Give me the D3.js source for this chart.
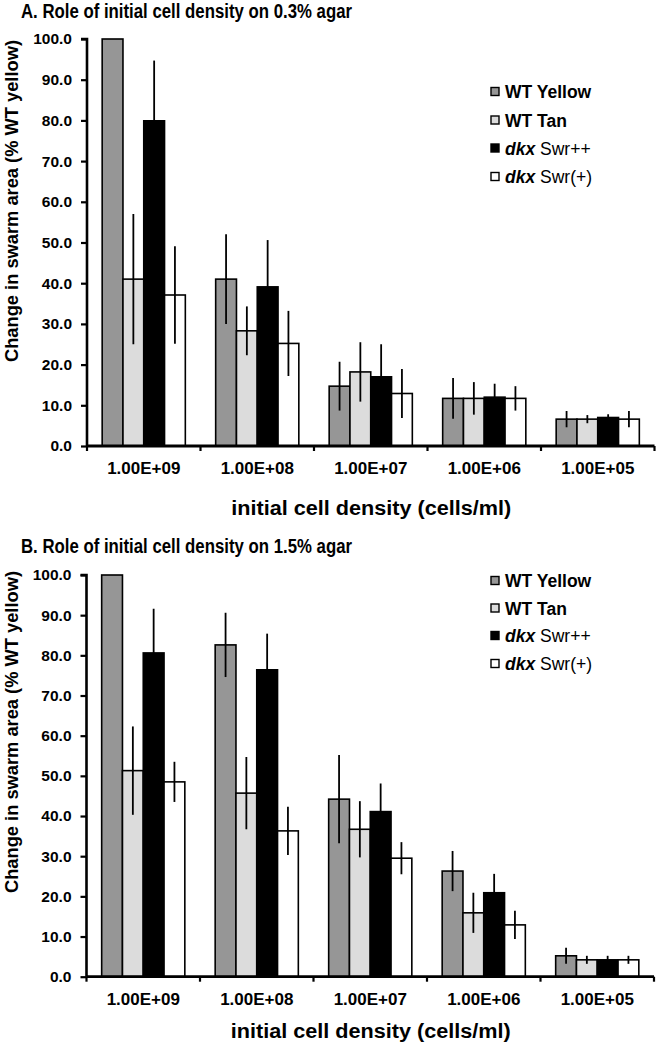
<!DOCTYPE html>
<html>
<head>
<meta charset="utf-8">
<script src="https://cdn.jsdelivr.net/npm/d3@7"></script>
<style>
  body { margin: 0; background: #fff; }
  text { font-family: "Liberation Sans", Arial, Helvetica, sans-serif; }
</style>
</head>
<body>
<svg id="chart" width="656" height="1050"></svg>
<script>
// ---------- data ----------
const categories = ["1.00E+09", "1.00E+08", "1.00E+07", "1.00E+06", "1.00E+05"];
const seriesNames = ["WT Yellow", "WT Tan", "dkx Swr++", "dkx Swr(+)"];
const seriesColors = ["#969696", "#dcdcdc", "#000000", "#ffffff"];
const yTicks = [0, 10, 20, 30, 40, 50, 60, 70, 80, 90, 100];

// Panel A (0.3% agar)
const wtYellowA    = [100, 41.0, 14.7, 11.7, 6.6];
const wtYellowErrA = [0, 11, 6, 5, 2];
const wtTanA       = [41.0, 28.3, 18.2, 11.7, 6.6];
const wtTanErrA    = [16, 6, 7.3, 4, 1];
const swrPPA       = [79.9, 39.1, 17.0, 12.0, 7.0];
const swrPPErrA    = [14.8, 11.5, 8, 3.3, 0.8];
const swrPA        = [37.1, 25.2, 12.9, 11.7, 6.6];
const swrPErrA     = [12, 8, 6, 3, 2];

// Panel B (1.5% agar)
const wtYellowB    = [100, 82.6, 44.2, 26.3, 5.2];
const wtYellowErrB = [0, 8, 11, 5, 2];
const wtTanB       = [51.3, 45.7, 36.7, 15.9, 4.2];
const wtTanErrB    = [11, 9, 7, 5, 1];
const swrPPB       = [80.6, 76.4, 41.1, 20.9, 4.2];
const swrPPErrB    = [11, 9, 7, 4.7, 1];
const swrPB        = [48.5, 36.3, 29.5, 12.9, 4.2];
const swrPErrB     = [5, 6, 4, 3.5, 1];

const titleA = "A. Role of initial cell density on 0.3% agar";
const titleB = "B. Role of initial cell density on 1.5% agar";
const yTitle = "Change in swarm area (% WT yellow)";
const xTitle = "initial cell density (cells/ml)";

// ---------- drawing ----------
const svg = d3.select("#chart");

function drawPanel(cfg) {
  const g = svg.append("g");
  const vals = cfg.values, errs = cfg.errors;

  const x = d3.scaleBand().domain(categories).range([cfg.left, cfg.right]).padding(0);
  const xs = d3.scaleBand().domain(seriesNames).range([0, x.bandwidth()])
    .paddingInner(0).paddingOuter(0.73);
  const y = d3.scaleLinear().domain([0, 100]).range([cfg.bottom, cfg.top]);

  // title
  g.append("text").attr("x", 21).attr("y", cfg.titleY)
    .attr("font-size", 19.5).attr("font-weight", "bold")
    .attr("textLength", 331).attr("lengthAdjust", "spacingAndGlyphs")
    .text(cfg.title);

  // bars
  const rows = [];
  categories.forEach((c, i) => seriesNames.forEach((s, j) => {
    rows.push({ c, s, j, v: vals[j][i], e: errs[j][i] });
  }));
  g.selectAll("rect.bar").data(rows).join("rect")
    .attr("class", "bar")
    .attr("x", d => x(d.c) + xs(d.s))
    .attr("width", xs.bandwidth())
    .attr("y", d => y(d.v))
    .attr("height", d => y(0) - y(d.v))
    .attr("fill", d => seriesColors[d.j])
    .attr("stroke", "#000").attr("stroke-width", 1.6);

  // error bars
  g.selectAll("line.err").data(rows.filter(d => d.e > 0)).join("line")
    .attr("class", "err")
    .attr("x1", d => x(d.c) + xs(d.s) + xs.bandwidth() / 2)
    .attr("x2", d => x(d.c) + xs(d.s) + xs.bandwidth() / 2)
    .attr("y1", d => y(Math.max(0, d.v - d.e)))
    .attr("y2", d => y(Math.min(100, d.v + d.e)))
    .attr("stroke", "#000").attr("stroke-width", 1.8);

  // y axis
  const yAxis = d3.axisLeft(y).tickValues(yTicks).tickFormat(d3.format(".1f"))
    .tickSize(6).tickPadding(9);
  const ya = g.append("g").attr("transform", `translate(${cfg.left},0)`).call(yAxis);
  ya.select(".domain").attr("stroke-width", 2.6).attr("d", `M-6,${cfg.top}H0V${cfg.bottom}`);
  ya.selectAll(".tick line").attr("stroke-width", 2.2);
  ya.selectAll(".tick text").attr("font-size", 15.5).attr("font-weight", "bold")
    .attr("font-family", "'Liberation Sans', Arial, sans-serif").attr("fill", "#000");

  // x axis
  const xAxis = d3.axisBottom(x).tickSize(0).tickPadding(cfg.xLabelPad);
  const xa = g.append("g").attr("transform", `translate(0,${cfg.bottom})`).call(xAxis);
  xa.select(".domain").attr("stroke-width", 2.8).attr("d", `M${cfg.left},0H${cfg.right}`);
  xa.selectAll(".tick text").attr("font-size", 17).attr("font-weight", "bold")
    .attr("font-family", "'Liberation Sans', Arial, sans-serif").attr("fill", "#000");
  // boundary tick marks
  const bounds = categories.map(c => x(c)).concat([cfg.right]);
  g.selectAll("line.xb").data(bounds).join("line")
    .attr("class", "xb")
    .attr("x1", d => d).attr("x2", d => d)
    .attr("y1", cfg.bottom).attr("y2", cfg.bottom + 5)
    .attr("stroke", "#000").attr("stroke-width", 2.2);

  // axis titles
  g.append("text").attr("x", (cfg.left + cfg.right) / 2 + 0.5).attr("y", cfg.xTitleY)
    .attr("text-anchor", "middle").attr("font-size", 20).attr("font-weight", "bold")
    .attr("textLength", 280).attr("lengthAdjust", "spacingAndGlyphs")
    .text(xTitle);
  g.append("text")
    .attr("transform", `translate(18,${cfg.yTitleCY}) rotate(-90)`)
    .attr("text-anchor", "middle").attr("font-size", 18.5).attr("font-weight", "bold")
    .attr("textLength", 322).attr("lengthAdjust", "spacingAndGlyphs")
    .text(yTitle);

  // legend
  const lg = g.append("g");
  seriesNames.forEach((s, j) => {
    const cy = cfg.legendY[j];
    lg.append("rect").attr("x", 491).attr("y", cy - 4.5).attr("width", 8).attr("height", 8)
      .attr("fill", seriesColors[j]).attr("stroke", "#000").attr("stroke-width", 1.4);
    const t = lg.append("text").attr("x", 505).attr("y", cy + 6).attr("font-size", 17.5);
    if (s.startsWith("dkx")) {
      t.append("tspan").attr("font-weight", "bold").attr("font-style", "italic").text("dkx");
      t.append("tspan").attr("font-weight", "normal").text(s.slice(3));
    } else {
      t.append("tspan").attr("font-weight", "bold").text(s);
    }
  });
}

drawPanel({
  title: titleA, titleY: 18,
  top: 39, bottom: 446, left: 87, right: 654.5,
  xLabelPad: 16, xTitleY: 515, yTitleCY: 201,
  legendY: [92, 120.5, 148.5, 177],
  values: [wtYellowA, wtTanA, swrPPA, swrPA],
  errors: [wtYellowErrA, wtTanErrA, swrPPErrA, swrPErrA]
});

drawPanel({
  title: titleB, titleY: 553,
  top: 575, bottom: 976.7, left: 86.5, right: 654,
  xLabelPad: 16, xTitleY: 1038, yTitleCY: 732,
  legendY: [581, 608.5, 636, 664],
  values: [wtYellowB, wtTanB, swrPPB, swrPB],
  errors: [wtYellowErrB, wtTanErrB, swrPPErrB, swrPErrB]
});
</script>
</body>
</html>
